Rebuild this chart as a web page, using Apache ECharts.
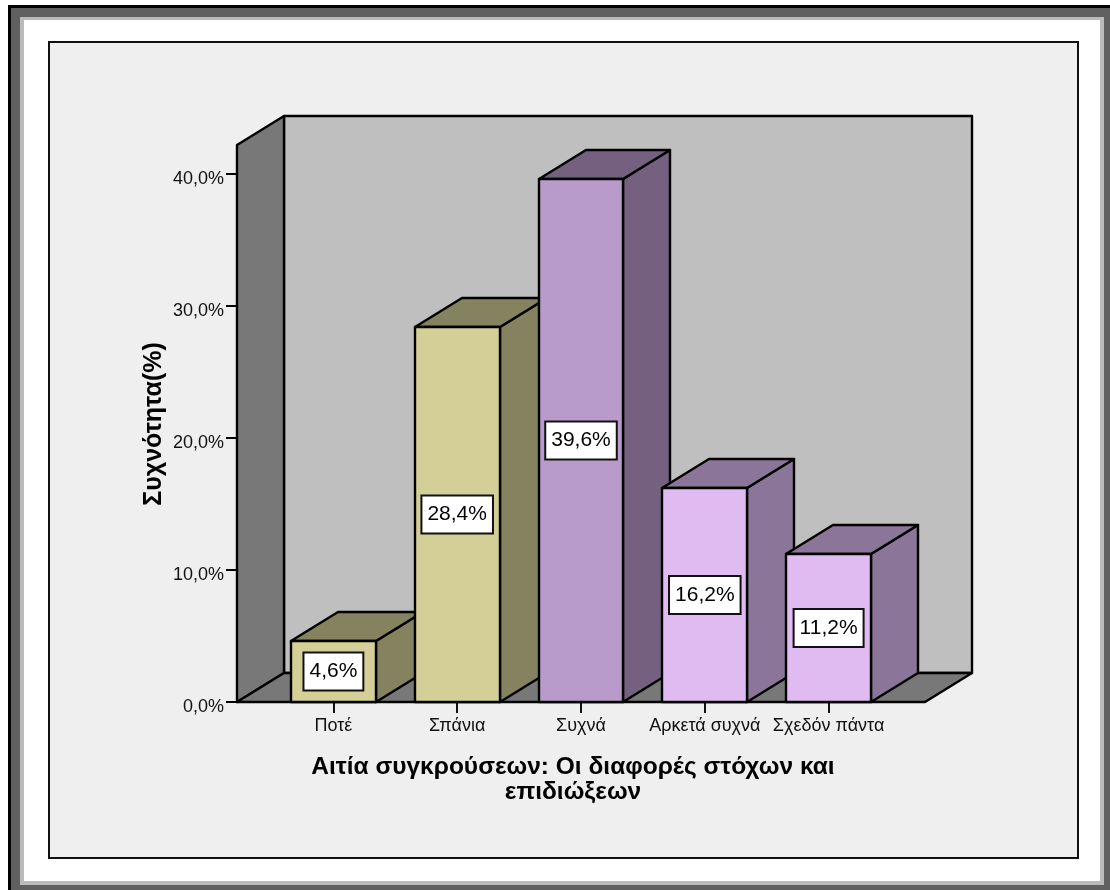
<!DOCTYPE html>
<html>
<head>
<meta charset="utf-8">
<style>html,body{margin:0;padding:0;background:#fff}#chart{width:1110px;height:890px}</style>
<script src="https://cdn.jsdelivr.net/npm/echarts@6/dist/echarts.min.js"></script>
</head>
<body>
<div id="chart"></div>
<script>
// Survey responses: how often differing goals cause conflict (percent of respondents)
const categories = ['Ποτέ', 'Σπάνια', 'Συχνά', 'Αρκετά συχνά', 'Σχεδόν πάντα'];
const percentages = [4.6, 28.4, 39.6, 16.2, 11.2];
const yTicks = [0, 10, 20, 30, 40];
const xTitle = 'Αιτία συγκρούσεων: Οι διαφορές στόχων και\nεπιδιώξεων';
const yTitle = 'Συχνότητα(%)';

// Per-bar colours: front face, then the darker shade for its top and side
const frontColors = ['#d3cf97', '#d3cf97', '#b89bca', '#dfbbf2', '#dfbbf2'];
const shadeColors = ['#85825f', '#85825f', '#75617f', '#8b7598', '#8b7598'];

// Oblique projection used for the fake depth of the box and bars
const DEPTH_X = 47;
const DEPTH_Y = 29;
const WALL_TOP_VALUE = 42.2;
const FLOOR_PAD = 34.5;
const LINE = { stroke: '#000', lineWidth: 2.4, lineJoin: 'round' };
const comma = (v) => v.toFixed(1).replace('.', ',') + '%';

function poly(points, fill, z2) {
  return { type: 'polygon', z2, shape: { points }, style: Object.assign({ fill }, LINE) };
}

function renderBox(params, api) {
  const r = params.coordSys;
  const x0 = Math.round(r.x - FLOOR_PAD), x1 = Math.round(r.x + r.width + FLOOR_PAD);
  const yb = api.coord([0, 0])[1];
  const yt = Math.round(api.coord([0, WALL_TOP_VALUE])[1]);
  return {
    type: 'group',
    children: [
      poly([[x0 + DEPTH_X, yt - DEPTH_Y], [x1 + DEPTH_X, yt - DEPTH_Y], [x1 + DEPTH_X, yb - DEPTH_Y], [x0 + DEPTH_X, yb - DEPTH_Y]], '#bfbfbf', 1),
      poly([[x0, yt], [x0 + DEPTH_X, yt - DEPTH_Y], [x0 + DEPTH_X, yb - DEPTH_Y], [x0, yb]], '#787878', 2),
      poly([[x0, yb], [x0 + DEPTH_X, yb - DEPTH_Y], [x1 + DEPTH_X, yb - DEPTH_Y], [x1, yb]], '#787878', 2)
    ]
  };
}

function renderBar(params, api) {
  const i = api.value(0);
  const v = api.value(1);
  const band = api.size([1, 0])[0];
  const half = band * 0.685 / 2;
  const c = api.coord([i, v]);
  const yb = api.coord([i, 0])[1];
  const xl = Math.round(c[0] - half), xr = Math.round(c[0] + half), yt = Math.round(c[1]);
  const dx = DEPTH_X, dy = DEPTH_Y;
  return {
    type: 'group',
    children: [
      poly([[xr, yt], [xr + dx, yt - dy], [xr + dx, yb - dy], [xr, yb]], shadeColors[i], 1),
      poly([[xl, yt], [xl + dx, yt - dy], [xr + dx, yt - dy], [xr, yt]], shadeColors[i], 1),
      poly([[xl, yt], [xr, yt], [xr, yb], [xl, yb]], frontColors[i], 2),
      {
        type: 'text', z2: 3,
        style: {
          x: c[0], y: (yt + yb) / 2,
          text: comma(v), align: 'center', verticalAlign: 'middle',
          font: '21px "Liberation Sans"', fill: '#000',
          backgroundColor: '#fff', borderColor: '#111', borderWidth: 2,
          padding: [9, 5, 6, 5]
        }
      }
    ]
  };
}

// Outer picture frame: nested bevel bands around the white margin
const frame = [
  { l: 8, t: 5, r: 1110, b: 890, fill: '#000' },
  { l: 11, t: 8, r: 1110, b: 890, fill: '#606060' },
  { l: 20, t: 17, r: 1104, b: 885, fill: '#bbb' },
  { l: 24, t: 20, r: 1100, b: 881, fill: '#fff' }
];

const chart = echarts.init(document.getElementById('chart'), null, { renderer: 'canvas' });
chart.setOption({
  animation: false,
  backgroundColor: '#fff',
  graphic: {
    elements: frame.map((f) => ({
      type: 'rect', silent: true, z: -10,
      shape: { x: f.l, y: f.t, width: f.r - f.l, height: f.b - f.t },
      style: { fill: f.fill }
    })).concat([{
      type: 'rect', silent: true, z: -9,
      shape: { x: 49, y: 42, width: 1029, height: 816 },
      style: { fill: '#efefef', stroke: '#111', lineWidth: 2 }
    }])
  },
  grid: { left: 271.5, top: 174, width: 619, height: 528 },
  xAxis: {
    type: 'category',
    data: categories,
    axisLine: { show: false },
    axisTick: { show: true, alignWithLabel: true, length: 11, lineStyle: { color: '#111', width: 2 } },
    axisLabel: { margin: 15, interval: 0, fontFamily: 'Liberation Sans', fontSize: 18, color: '#111', lineHeight: 18 },
    name: xTitle,
    nameLocation: 'middle',
    nameGap: 53,
    nameTextStyle: { fontFamily: 'Liberation Sans', fontSize: 24.5, fontWeight: 'bold', color: '#000', lineHeight: 25, padding: [0, 16, 0, 0] }
  },
  yAxis: {
    type: 'value',
    min: 0,
    max: 40,
    interval: 10,
    offset: 34.5,
    splitLine: { show: false },
    axisLine: { show: false },
    axisTick: { show: true, length: 11, lineStyle: { color: '#000', width: 2 } },
    axisLabel: {
      margin: 13,
      formatter: (v) => yTicks.includes(v) ? '{t|' + comma(v) + '}' : '',
      rich: { t: { fontFamily: 'Liberation Sans', fontSize: 18, color: '#111', padding: [10, 0, 0, 0] } }
    },
    name: yTitle,
    nameLocation: 'middle',
    nameGap: 70,
    nameMoveOverlap: false,
    nameTextStyle: { fontFamily: 'Liberation Sans', fontSize: 25, fontWeight: 'bold', color: '#000', padding: [0, 0, 0, 28] }
  },
  series: [
    { type: 'custom', coordinateSystem: 'cartesian2d', clip: false, z: 1, renderItem: renderBox, data: [[0, 0]], silent: true },
    { type: 'custom', coordinateSystem: 'cartesian2d', clip: false, z: 2, renderItem: renderBar, data: percentages.map((v, i) => [i, v]), silent: true }
  ]
});
</script>
</body>
</html>
